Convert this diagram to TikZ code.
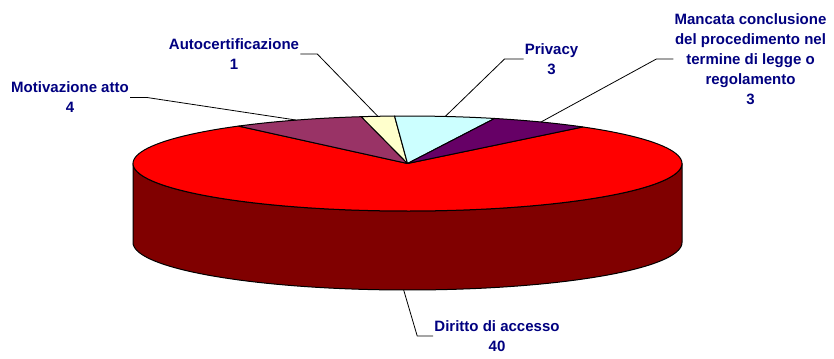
\documentclass[tikz,border=0pt]{standalone}
\usepackage{fontspec}
\setmainfont{Liberation Sans}
\definecolor{topred}{HTML}{FF0000}
\definecolor{sidered}{HTML}{800000}
\definecolor{motcol}{HTML}{993366}
\definecolor{autcol}{HTML}{FFFFCC}
\definecolor{privcol}{HTML}{CCFFFF}
\definecolor{mancol}{HTML}{660066}
\definecolor{lblcol}{HTML}{000080}
\tikzset{
  slice/.style={draw=black, line width=0.75pt, line join=round},
  lead/.style={draw=black, line width=0.6pt},
  lbl/.style={align=center, inner sep=0.75pt, text=lblcol, font=\fontsize{11.25}{15}\selectfont\bfseries}
}
\begin{document}
\begin{tikzpicture}[x=0.75pt,y=0.75pt,yscale=-1,xscale=1]
\useasboundingbox (0,0) rectangle (834,358);

%Shape: side of the pie
\draw [slice, fill=sidered] plot[domain=180:360, samples=80] ({407.5+274.5*cos(\x)},{242.5-47.5*sin(\x)}) -- plot[domain=360:180, samples=80] ({407.5+274.5*cos(\x)},{163.5-47.5*sin(\x)}) -- cycle ;
%Shape: Diritto di accesso
\draw [slice, fill=topred] (407.5,163.5) -- plot[domain=128:410.3, samples=120] ({407.5+274.5*cos(\x)},{163.5-47.5*sin(\x)}) -- cycle ;
%Shape: Motivazione atto
\draw [slice, fill=motcol] (407.5,163.5) -- plot[domain=99.7:128, samples=15] ({407.5+274.5*cos(\x)},{163.5-47.5*sin(\x)}) -- cycle ;
%Shape: Autocertificazione
\draw [slice, fill=autcol] (407.5,163.5) -- plot[domain=92.7:99.7, samples=5] ({407.5+274.5*cos(\x)},{163.5-47.5*sin(\x)}) -- cycle ;
%Shape: Privacy
\draw [slice, fill=privcol] (407.5,163.5) -- plot[domain=71.5:92.7, samples=12] ({407.5+274.5*cos(\x)},{163.5-47.5*sin(\x)}) -- cycle ;
%Shape: Mancata conclusione
\draw [slice, fill=mancol] (407.5,163.5) -- plot[domain=50.3:71.5, samples=12] ({407.5+274.5*cos(\x)},{163.5-47.5*sin(\x)}) -- cycle ;

% leader ends on the pie
\coordinate (mDir) at ({407.5+274.5*cos(269.2)},{242.5-47.5*sin(269.2)});
\coordinate (mMot) at ({407.5+274.5*cos(113.9)},{163.5-47.5*sin(113.9)});
\coordinate (mAut) at ({407.5+274.5*cos(96.2)},{163.5-47.5*sin(96.2)});
\coordinate (mPriv) at ({407.5+274.5*cos(82.1)},{163.5-47.5*sin(82.1)});
\coordinate (mMan) at ({407.5+274.5*cos(60.9)},{163.5-47.5*sin(60.9)});

% Text Node
\node [lbl] (motiv) at (70,97.5) {Motivazione atto\\4};
% Text Node
\node [lbl] (autoc) at (234,54) {Autocertificazione\\1};
% Text Node
\node [lbl] (priv) at (551.5,59) {Privacy\\3};
% Text Node
\node [lbl] (manc) at (750.5,59) {Mancata conclusione\\del procedimento nel\\termine di legge o\\regolamento\\3};
% Text Node
\node [lbl] (dir) at (497,336) {Diritto di accesso\\40};

%Straight Lines: leaders
\draw [lead] (motiv.east) -- ++(17,0) -- (mMot) ;
\draw [lead] (autoc.east) -- ++(17,0) -- (mAut) ;
\draw [lead] (priv.west) -- ++(-19,0) -- (mPriv) ;
\draw [lead] (manc.west) -- ++(-17,0) -- (mMan) ;
\draw [lead] (dir.west) -- ++(-16,0) -- (mDir) ;

\end{tikzpicture}
\end{document}
